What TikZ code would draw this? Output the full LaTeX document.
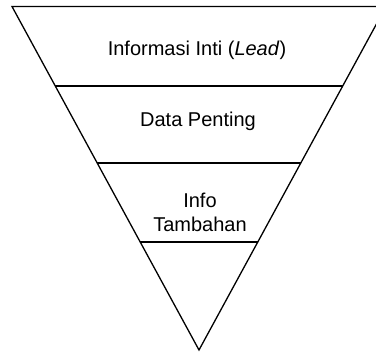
\documentclass[tikz,border=0pt]{standalone}
\usepackage{fontspec}
\setmainfont{Liberation Sans}
\usetikzlibrary{calc}

\begin{document}
\begin{tikzpicture}[x=1pt, y=1pt, font=\fontsize{20}{24}\selectfont]
\useasboundingbox (0,0) rectangle (376,354);
\clip (0,0) rectangle (376,354);

% Pyramid corners
\coordinate (topL) at (12,347.5);
\coordinate (topR) at (386,347.5);
\coordinate (apex) at (199,4);

% Inverted pyramid
\draw[line width=1.3pt, line join=miter] (topL) -- (topR) -- (apex) -- cycle;

% Layer borders
\draw[line width=1.3pt] ($(topL)!0.2314!(apex)$) -- ($(topR)!0.2314!(apex)$);
\draw[line width=1.3pt] ($(topL)!0.4556!(apex)$) -- ($(topR)!0.4556!(apex)$);
\draw[line width=1.3pt] ($(topL)!0.6856!(apex)$) -- ($(topR)!0.6856!(apex)$);

% Layer labels
\node (lead) at (197,304) {Informasi Inti (\textit{Lead})};
\node (data) at (198,233) {Data Penting};
\node[align=center] (info) at (200,142) {Info\\Tambahan};
\end{tikzpicture}
\end{document}
